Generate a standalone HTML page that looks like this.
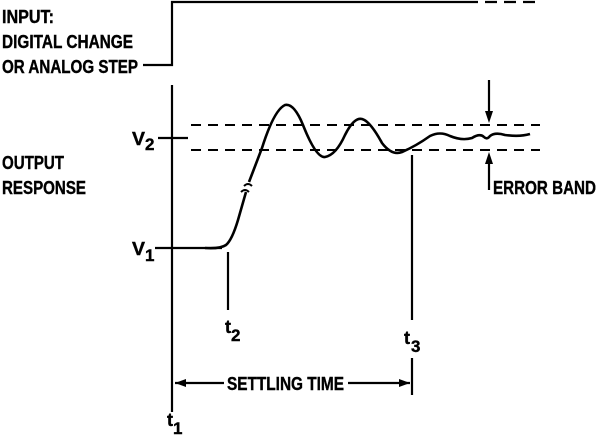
<!DOCTYPE html>
<html><head><style>html,body{margin:0;padding:0;background:#fff}svg{display:block}</style></head>
<body>
<svg width="600" height="438" viewBox="0 0 600 438" xmlns="http://www.w3.org/2000/svg" font-family="Liberation Sans, Arial, sans-serif" font-weight="bold" fill="#000">
<g stroke="#000" stroke-width="2.2" fill="none">
<path d="M143 65 H172 V2 H466"/>
<path d="M466 2 H540" stroke-dasharray="12,7"/>
<path d="M191 125 H540 M191 150 H540" stroke-dasharray="10,7" stroke-width="2"/>
<path d="M172 85 V412"/>
<path d="M158 138 H188"/>
<path d="M155 248 H222"/>
<path d="M228 252 V310"/>
<path d="M412 155 V320 M412 358 V395"/>
<path d="M175 383 H224 M348 383 H410"/>
<path d="M489 80 V118 M489 190 V158"/>
<path stroke-width="2.6" d="M205 248 Q220 249 226 245 Q232 240 238 220 L246 192 M249 182 L262 148 Q274 110 285 105 Q294 103 303 125 Q316 158 325 157 Q336 155 345 135 Q354 117 362 119 Q370 121 382 143 Q392 156 402 152 Q416 146 430 136 Q440 131 450 136 Q462 141 472 138 Q480 133 484 137 Q487 140 490 136 Q495 132 505 135 Q520 137 530 134"/>
<path stroke-width="2" d="M241 192 q4 -4 8 0 M244 186 q4 -4 8 0"/>
</g>
<path d="M175 383 L186 379 L186 387 Z M410 383 L399 379 L399 387 Z M489 123 L485 111 L493 111 Z M489 152 L485 164 L493 164 Z"/>
<g font-size="18" stroke="#000" stroke-width="0.4">
<text x="2" y="23" textLength="52" lengthAdjust="spacingAndGlyphs">INPUT:</text>
<text x="2" y="48" textLength="131" lengthAdjust="spacingAndGlyphs">DIGITAL CHANGE</text>
<text x="2" y="73" textLength="136" lengthAdjust="spacingAndGlyphs">OR ANALOG STEP</text>
<text x="2" y="169" textLength="62" lengthAdjust="spacingAndGlyphs">OUTPUT</text>
<text x="2" y="194" textLength="84" lengthAdjust="spacingAndGlyphs">RESPONSE</text>
<text x="227" y="390" textLength="117" lengthAdjust="spacingAndGlyphs">SETTLING TIME</text>
<text x="493" y="194" textLength="103" lengthAdjust="spacingAndGlyphs">ERROR BAND</text>
<text x="132" y="145" textLength="13" lengthAdjust="spacingAndGlyphs">V</text><text x="145" y="150" font-size="17">2</text>
<text x="132" y="255" textLength="13" lengthAdjust="spacingAndGlyphs">V</text><text x="145" y="261" font-size="17">1</text>
<text x="225" y="333">t</text><text x="231" y="341" font-size="17">2</text>
<text x="404" y="344">t</text><text x="411" y="352" font-size="17">3</text>
<text x="167" y="426">t</text><text x="173" y="434" font-size="17">1</text>
</g>
</svg>
</body></html>
